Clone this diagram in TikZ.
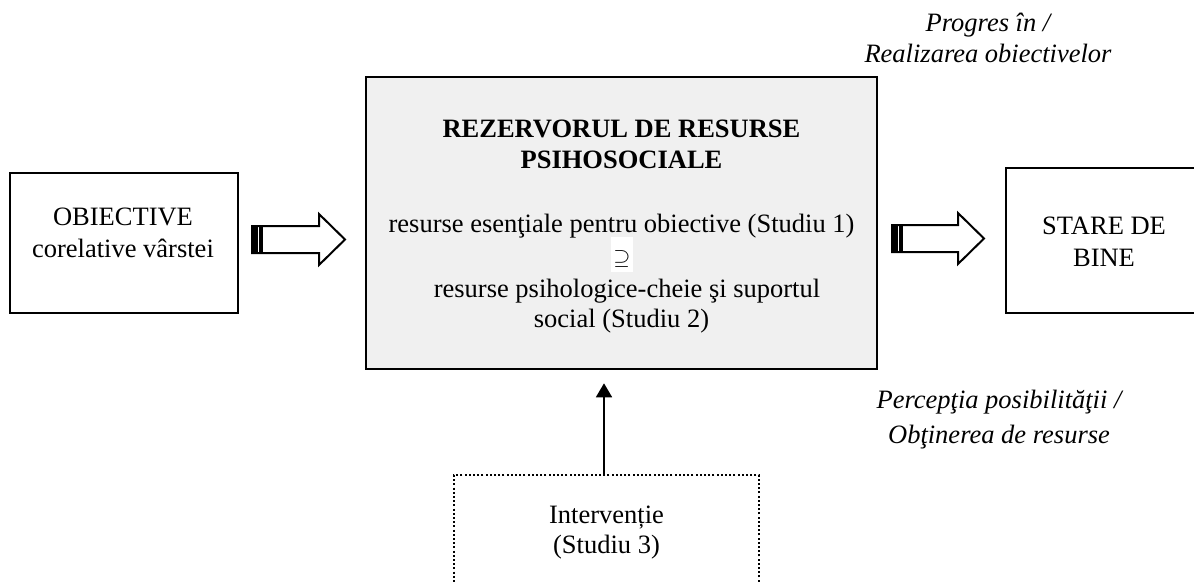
\documentclass[tikz,border=0pt]{standalone}
\usepackage{fontspec}
\setmainfont{Liberation Serif}
\usetikzlibrary{arrows.meta}
\definecolor{boxgray}{HTML}{F0F0F0}
\begin{document}
\begin{tikzpicture}[x=0.5pt,y=-0.5pt,
  font=\fontsize{13.25pt}{15.75pt}\selectfont,
  box/.style={draw, line width=1.1pt, inner sep=0pt},
  txt/.style={anchor=base, inner sep=0pt, align=center},
  itxt/.style={txt, font=\fontsize{13.25pt}{15.75pt}\selectfont\itshape},
  blockarr/.style={draw, line width=1pt, fill=white, line join=miter},
  tailbar/.style={fill=black},
  vline/.style={draw, line width=0.85pt, -{Triangle[width=8pt,length=7pt]}, shorten >=6.5pt}]
\useasboundingbox (0,0) rectangle (1194,583);
\begin{scope}
\clip (0,0) rectangle (1194,583);

% boxes
\node[box, minimum width=114pt, minimum height=70pt] (obj) at (124,243) {};
\node[box, line width=1.3pt, fill=boxgray, minimum width=255.5pt, minimum height=146pt] (main) at (621.5,223) {};
\node[box, minimum width=98pt, minimum height=72.5pt] (stare) at (1104,240.5) {};
\node[box, line width=1.1pt, dash pattern=on 1pt off 1.1pt, minimum width=152.5pt, minimum height=62.5pt] (interv) at (606.5,537.5) {};

% texts (base anchor = baseline of the last line)
\node[txt] (objtxt) at (123,257) {OBIECTIVE\\corelative vârstei};
\node[txt, font=\fontsize{13.25pt}{15.5pt}\selectfont\bfseries] (title) at (621.5,169) {REZERVORUL DE RESURSE\\PSIHOSOCIALE};
\node[txt] (res1) at (621.5,232) {resurse esenţiale pentru obiective (Studiu 1)};
\node[anchor=base, fill=white, inner sep=0pt, minimum width=11pt, text height=13.75pt, text depth=3.75pt] (sup) at (622,264) {\fontsize{11pt}{11pt}\selectfont$\supseteq$};
\node[txt] (res2) at (627,297) {resurse psihologice-cheie şi suportul};
\node[txt] (res3) at (621.5,327) {social (Studiu 2)};
\node[txt] (staretxt) at (1104,266) {STARE DE\\BINE};
\node[txt, font=\fontsize{13.25pt}{15pt}\selectfont] (intervtxt) at (606.5,553) {Intervenție\\(Studiu 3)};
\node[itxt] (progres) at (988,63) {Progres în /\\Realizarea obiectivelor};
\node[itxt] (percep) at (999,443) {Percepţia posibilităţii /\\[1.75pt]Obţinerea de resurse};

% block arrow obj -> main
\draw[blockarr] (252,226) -- (319,226) -- (319,214) -- (345,239.5) -- (319,265) -- (319,253) -- (252,253) -- cycle;
\fill[tailbar] (252,226) rectangle (258,253);
\fill[tailbar] (259.2,226) rectangle (262.5,253);

% block arrow main -> stare
\draw[blockarr] (892,225) -- (958,225) -- (958,213) -- (984,238.5) -- (958,264) -- (958,252) -- (892,252) -- cycle;
\fill[tailbar] (892,225) rectangle (898,252);
\fill[tailbar] (899.2,225) rectangle (902.5,252);

% intervention arrow
\draw[vline] ([xshift=-1.25pt]interv.north) -- ([xshift=-1.25pt]interv.north |- main.south);
\end{scope}
\end{tikzpicture}
\end{document}
